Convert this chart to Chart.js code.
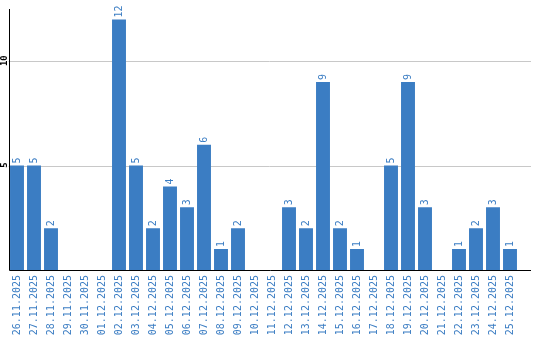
<!DOCTYPE html>
<html>
<head>
<meta charset="utf-8">
<script src="https://cdn.jsdelivr.net/npm/chart.js@4.4.0/dist/chart.umd.min.js"></script>
<style>
  html, body { margin: 0; padding: 0; background: #fff; }
  #wrap { width: 540px; height: 340px; }
</style>
</head>
<body>
<div id="wrap"><canvas id="chart"></canvas></div>
<script>
// Days on the x-axis
var days = [
  '26.11.2025', '27.11.2025', '28.11.2025', '29.11.2025', '30.11.2025',
  '01.12.2025', '02.12.2025', '03.12.2025', '04.12.2025', '05.12.2025',
  '06.12.2025', '07.12.2025', '08.12.2025', '09.12.2025', '10.12.2025',
  '11.12.2025', '12.12.2025', '13.12.2025', '14.12.2025', '15.12.2025',
  '16.12.2025', '17.12.2025', '18.12.2025', '19.12.2025', '20.12.2025',
  '21.12.2025', '22.12.2025', '23.12.2025', '24.12.2025', '25.12.2025'
];
// Count per day
var counts = [5, 5, 2, 0, 0, 0, 12, 5, 2, 4, 3, 6, 1, 2, 0, 0, 3, 2, 9, 2, 1, 0, 5, 9, 3, 0, 1, 2, 3, 1];
// Labelled values on the y-axis
var yTickValues = [5, 10];

var BLUE = '#3b7dc3';
var MONO = '"DejaVu Sans Mono", monospace';
// The bars sit flush with the y-axis, so the axis line is drawn
// a little right of the plot edge; the lines run past the last bar.
var AXIS_SHIFT = 1.5;
var LINE_OVERHANG = 12.5;

// Grid lines, axis lines and y labels.
var axisLines = {
  id: 'axisLines',
  beforeDatasetsDraw: function (chart) {
    var ctx = chart.ctx;
    var area = chart.chartArea;
    var y = chart.scales.y;
    ctx.save();
    ctx.strokeStyle = '#c8c8c8';
    ctx.lineWidth = 1;
    y.ticks.forEach(function (t) {
      var py = Math.round(y.getPixelForValue(t.value)) + 0.5;
      ctx.beginPath();
      ctx.moveTo(area.left, py);
      ctx.lineTo(area.right + LINE_OVERHANG, py);
      ctx.stroke();
    });
    ctx.restore();
  },
  afterDatasetsDraw: function (chart) {
    var ctx = chart.ctx;
    var area = chart.chartArea;
    var y = chart.scales.y;
    var y0 = Math.round(y.getPixelForValue(0)) + 0.5;
    var x0 = Math.round(area.left + AXIS_SHIFT) - 0.5;
    ctx.save();
    ctx.strokeStyle = '#000';
    ctx.lineWidth = 1;
    ctx.beginPath();
    ctx.moveTo(x0, area.top);
    ctx.lineTo(x0, y0);
    ctx.lineTo(area.right + LINE_OVERHANG, y0);
    ctx.stroke();

    // Rotated y tick labels, left of the axis.
    ctx.fillStyle = '#000';
    ctx.font = 'bold 9px ' + MONO;
    ctx.textAlign = 'center';
    ctx.textBaseline = 'middle';
    y.ticks.forEach(function (t) {
      ctx.save();
      ctx.translate(4.5, y.getPixelForValue(t.value) - 0.5);
      ctx.rotate(-Math.PI / 2);
      ctx.fillText(String(t.value), 0, 0);
      ctx.restore();
    });
    ctx.restore();
  }
};

// Value printed above each bar, rotated like the day labels.
var barValues = {
  id: 'barValues',
  afterDatasetsDraw: function (chart) {
    var ctx = chart.ctx;
    var meta = chart.getDatasetMeta(0);
    ctx.save();
    ctx.fillStyle = BLUE;
    ctx.font = '10px ' + MONO;
    ctx.textAlign = 'left';
    ctx.textBaseline = 'middle';
    meta.data.forEach(function (bar, i) {
      var v = counts[i];
      if (!v) return;
      ctx.save();
      ctx.translate(bar.x, bar.y - 2);
      ctx.rotate(-Math.PI / 2);
      ctx.fillText(String(v), 0, 0);
      ctx.restore();
    });
    ctx.restore();
  }
};

new Chart(document.getElementById('chart'), {
  type: 'bar',
  data: {
    labels: days,
    datasets: [{
      data: counts,
      backgroundColor: BLUE,
      borderWidth: 0,
      barPercentage: 0.82,
      categoryPercentage: 1
    }]
  },
  options: {
    responsive: true,
    maintainAspectRatio: false,
    animation: false,
    layout: { padding: { top: 9, right: 21.5, left: 0, bottom: 0 } },
    plugins: {
      legend: { display: false },
      tooltip: { enabled: false }
    },
    scales: {
      x: {
        grid: { display: false, drawTicks: false },
        border: { display: false },
        ticks: {
          color: BLUE,
          font: { family: MONO, size: 10 },
          minRotation: 90,
          maxRotation: 90,
          autoSkip: false,
          padding: 5
        },
        afterFit: function (scale) { scale.height = 70; }
      },
      y: {
        min: 0,
        max: 12.5,
        grid: { display: false, drawTicks: false },
        border: { display: false },
        afterBuildTicks: function (scale) {
          scale.ticks = yTickValues.map(function (v) { return { value: v }; });
        },
        ticks: { display: false },
        afterFit: function (scale) { scale.width = 8.5; }
      }
    }
  },
  plugins: [axisLines, barValues]
});
</script>
</body>
</html>
